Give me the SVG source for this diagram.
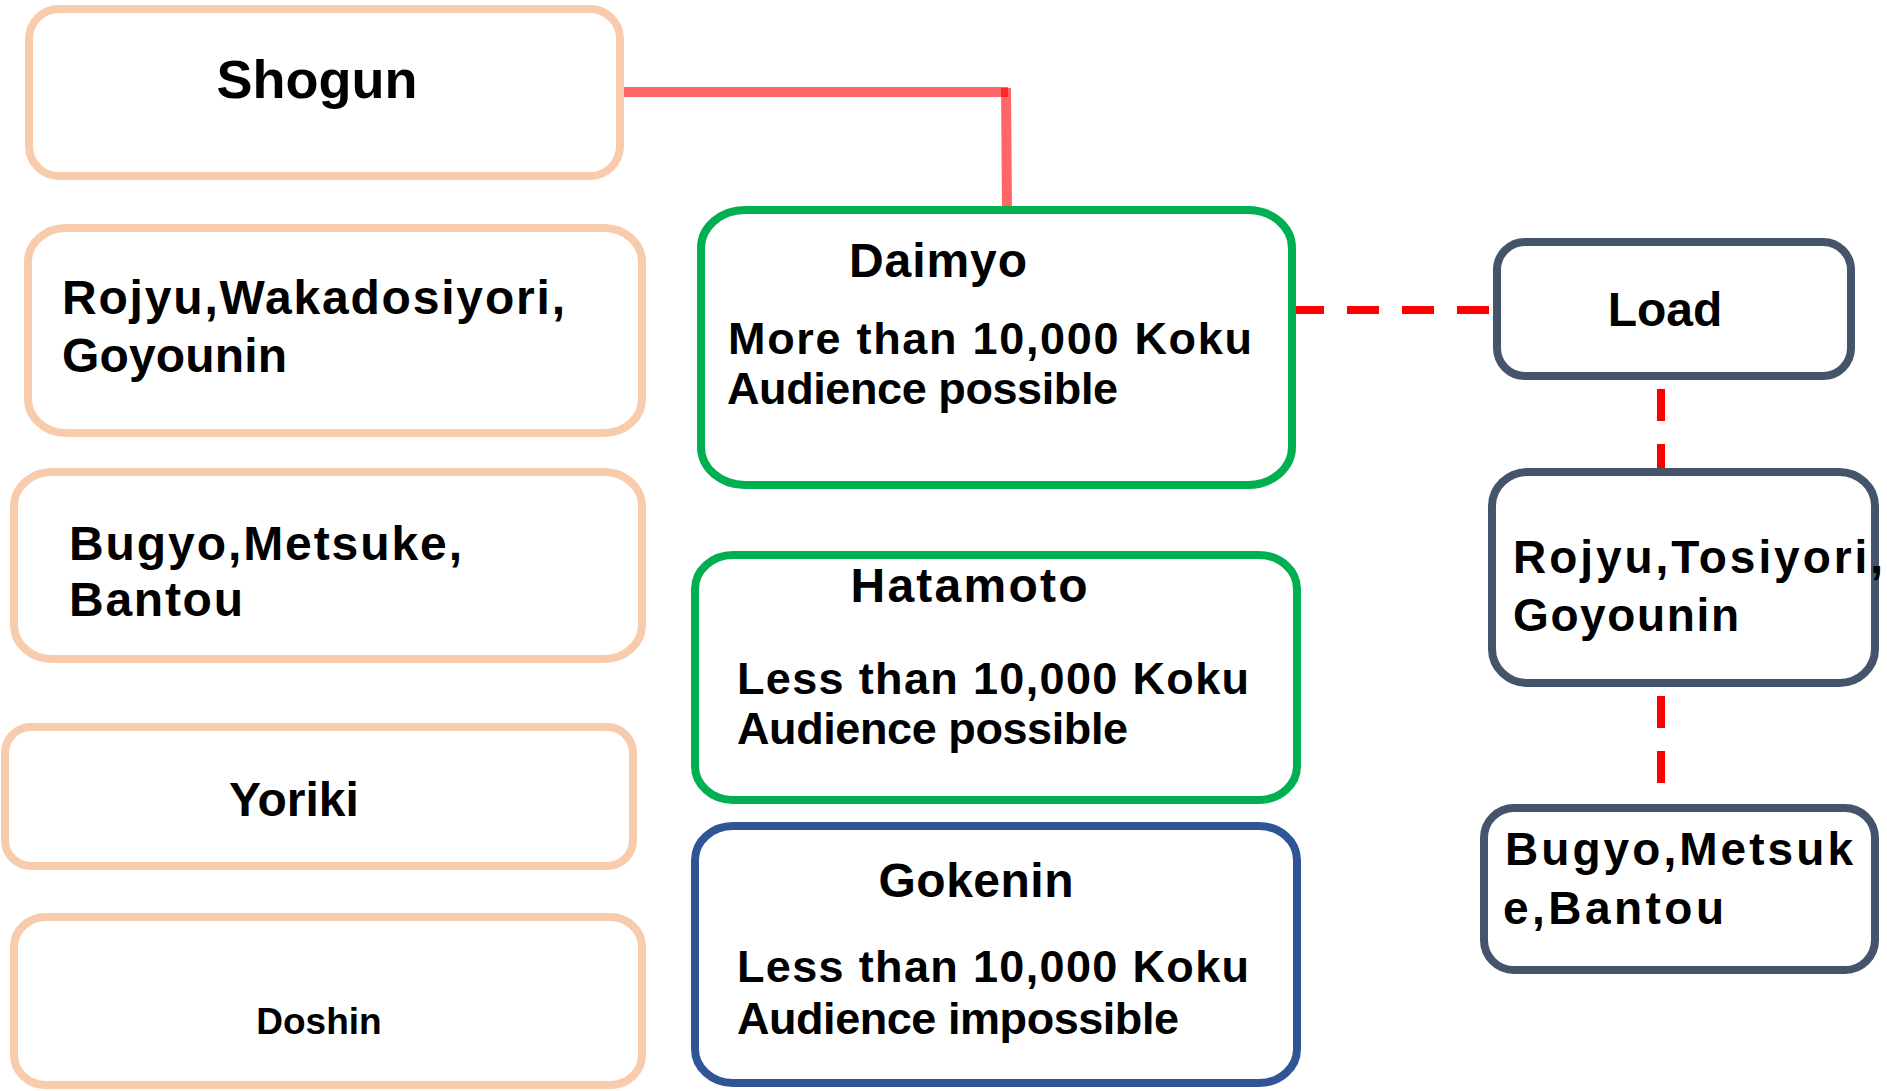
<svg xmlns="http://www.w3.org/2000/svg" width="1887" height="1091" viewBox="0 0 1887 1091">
  <style>
    .box { fill: #ffffff; stroke-width: 8; }
    .peach { stroke: #F8CBAD; }
    .green { stroke: #00B050; }
    .blue { stroke: #2F5597; }
    .slate { stroke: #44546A; }
    text { font-family: "Liberation Sans", Arial, sans-serif; font-weight: bold; fill: #000000; }
    .t54 { font-size: 54px; }
    .t48 { font-size: 48px; }
    .t46 { font-size: 46px; }
    .t45 { font-size: 45px; }
    .t37 { font-size: 37px; }
    .mid { text-anchor: middle; }
    .solid { fill: none; stroke: #FF0000; stroke-opacity: 0.6; stroke-width: 10; }
    .dash { fill: none; stroke: #FF0000; stroke-width: 8; stroke-dasharray: 32 23; }
  </style>

  <rect width="1887" height="1091" fill="#ffffff"/>

  <!-- connectors -->
  <g id="connectors">
    <line class="solid" x1="622" y1="92" x2="1008" y2="92"/>
    <line class="solid" x1="1006" y1="88" x2="1007" y2="211"/>
    <line class="dash" x1="1292" y1="310" x2="1494" y2="310"/>
    <line class="dash" x1="1661" y1="389" x2="1661" y2="478"/>
    <line class="dash" x1="1661" y1="696" x2="1661" y2="786"/>
  </g>

  <!-- shogunate ranks (left column) -->
  <g id="shogun">
    <rect class="box peach" x="29" y="9" width="591" height="167" rx="30" ry="30"/>
    <text class="t54 mid" x="317" y="98">Shogun</text>
  </g>
  <g id="rojyu-wakadosiyori">
    <rect class="box peach" x="28" y="228" width="614" height="205" rx="38" ry="34"/>
    <text class="t48" x="62" y="314" textLength="503" lengthAdjust="spacing">Rojyu,Wakadosiyori,</text>
    <text class="t48" x="62" y="372" textLength="225" lengthAdjust="spacing">Goyounin</text>
  </g>
  <g id="bugyo-left">
    <rect class="box peach" x="14" y="472" width="628" height="187" rx="38" ry="34"/>
    <text class="t48" x="69" y="560" textLength="393" lengthAdjust="spacing">Bugyo,Metsuke,</text>
    <text class="t48" x="69" y="616" textLength="174" lengthAdjust="spacing">Bantou</text>
  </g>
  <g id="yoriki">
    <rect class="box peach" x="5" y="727" width="628" height="139" rx="26" ry="26"/>
    <text class="t48 mid" x="294" y="816">Yoriki</text>
  </g>
  <g id="doshin">
    <rect class="box peach" x="14" y="917" width="628" height="168" rx="32" ry="30"/>
    <text class="t37 mid" x="319" y="1034">Doshin</text>
  </g>

  <!-- retainer classes (centre column) -->
  <g id="daimyo">
    <rect class="box green" x="701" y="210" width="591" height="275" rx="44" ry="38"/>
    <text class="t48 mid" x="938" y="277" textLength="178" lengthAdjust="spacing">Daimyo</text>
    <text class="t45" x="728" y="354" textLength="524" lengthAdjust="spacing">More than 10,000 Koku</text>
    <text class="t45" x="727" y="404" textLength="391" lengthAdjust="spacing">Audience possible</text>
  </g>
  <g id="hatamoto">
    <rect class="box green" x="695" y="555" width="602" height="245" rx="38" ry="34"/>
    <text class="t48 mid" x="969" y="602" textLength="237" lengthAdjust="spacing">Hatamoto</text>
    <text class="t45" x="737" y="694" textLength="512" lengthAdjust="spacing">Less than 10,000 Koku</text>
    <text class="t45" x="737" y="744" textLength="391" lengthAdjust="spacing">Audience possible</text>
  </g>
  <g id="gokenin">
    <rect class="box blue" x="695" y="826" width="602" height="257" rx="38" ry="34"/>
    <text class="t48 mid" x="976" y="897" textLength="195" lengthAdjust="spacing">Gokenin</text>
    <text class="t45" x="737" y="982" textLength="512" lengthAdjust="spacing">Less than 10,000 Koku</text>
    <text class="t45" x="737" y="1034" textLength="442" lengthAdjust="spacing">Audience impossible</text>
  </g>

  <!-- domain ranks (right column) -->
  <g id="load">
    <rect class="box slate" x="1497" y="242" width="354" height="134" rx="28" ry="28"/>
    <text class="t48 mid" x="1665" y="326">Load</text>
  </g>
  <g id="rojyu-tosiyori">
    <rect class="box slate" x="1492" y="472" width="383" height="211" rx="36" ry="34"/>
    <text class="t46" x="1513" y="573" textLength="370" lengthAdjust="spacing">Rojyu,Tosiyori,</text>
    <text class="t46" x="1513" y="631" textLength="226" lengthAdjust="spacing">Goyounin</text>
  </g>
  <g id="bugyo-right">
    <rect class="box slate" x="1484" y="808" width="391" height="162" rx="30" ry="30"/>
    <text class="t46" x="1505" y="865" textLength="348" lengthAdjust="spacing">Bugyo,Metsuk</text>
    <text class="t46" x="1503" y="924" textLength="221" lengthAdjust="spacing">e,Bantou</text>
  </g>
</svg>
